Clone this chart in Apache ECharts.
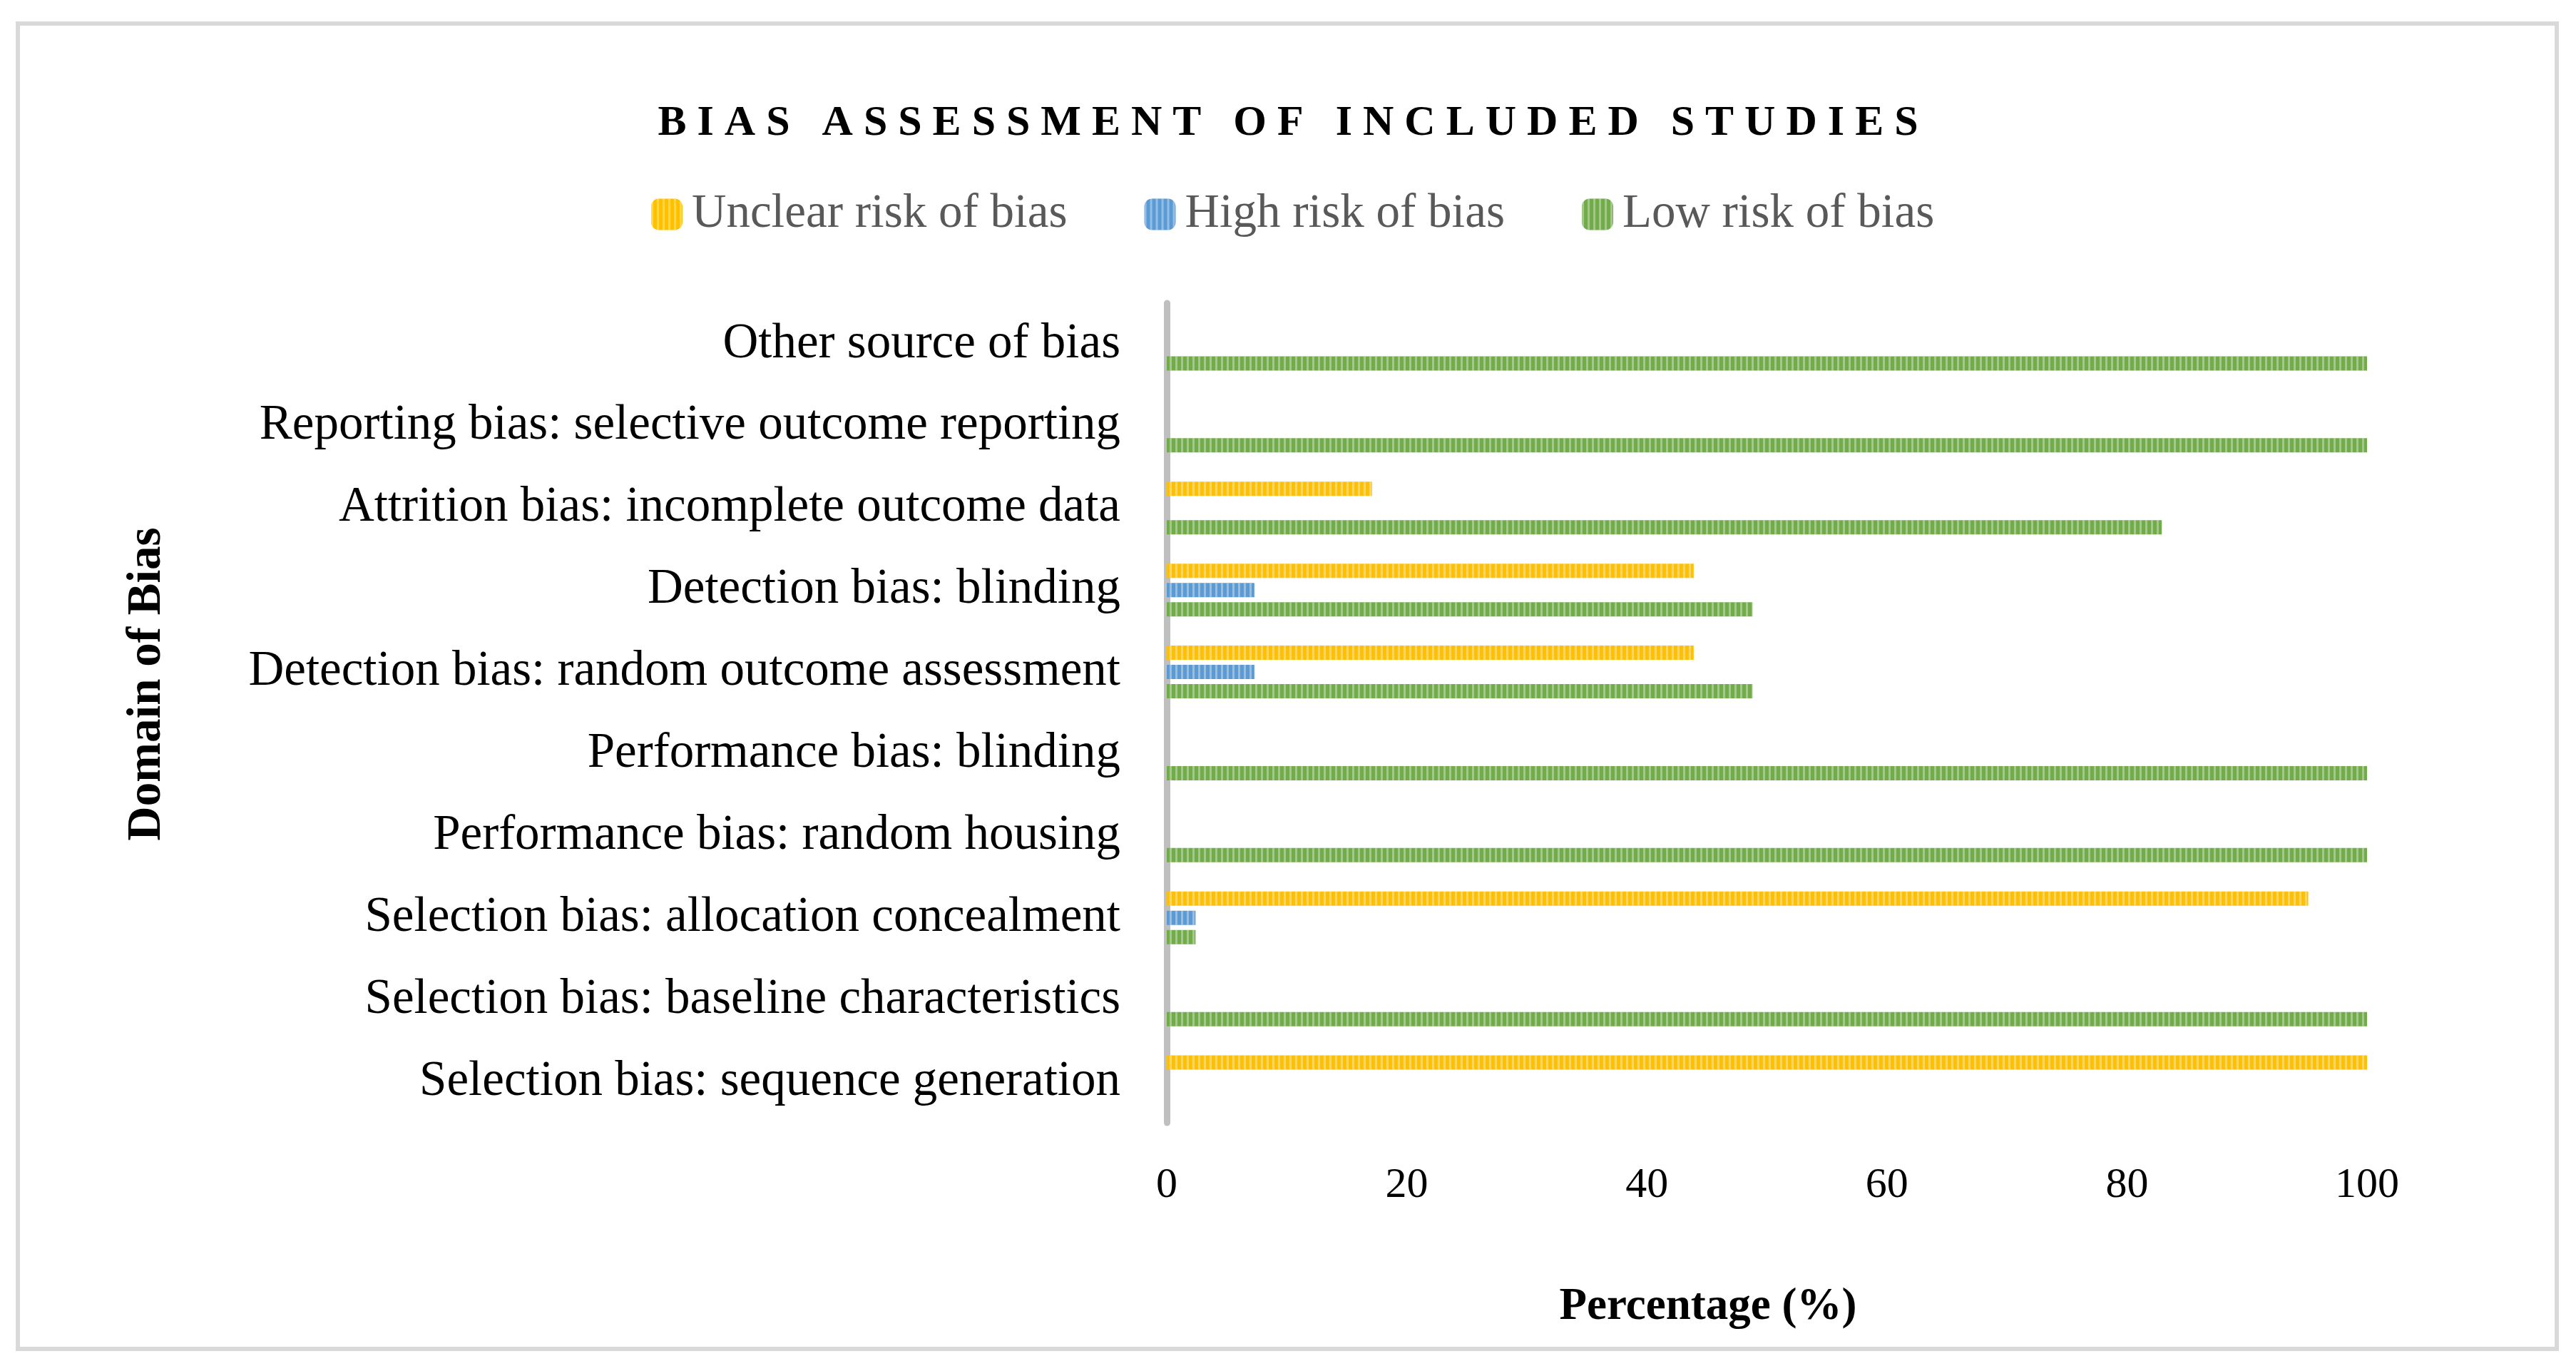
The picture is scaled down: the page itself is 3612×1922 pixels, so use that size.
<!DOCTYPE html>
<html>
<head>
<meta charset="utf-8">
<script src="https://cdn.jsdelivr.net/npm/echarts@6/dist/echarts.min.js"></script>
<style>
html,body{margin:0;padding:0;background:#fff;}
#chart{width:3612px;height:1922px;}
</style>
</head>
<body>
<div id="chart"></div>
<script>
const categories = [
  'Selection bias: sequence generation',
  'Selection bias: baseline characteristics',
  'Selection bias: allocation concealment',
  'Performance bias: random housing',
  'Performance bias: blinding',
  'Detection bias: random outcome assessment',
  'Detection bias: blinding',
  'Attrition bias: incomplete outcome data',
  'Reporting bias: selective outcome reporting',
  'Other source of bias'
];
const seriesNames = ['Unclear risk of bias', 'High risk of bias', 'Low risk of bias'];
const unclearValues = [100, 0, 95.1, 0, 0, 43.9, 43.9, 17.1, 0, 0];
const highValues    = [0, 0, 2.4, 0, 0, 7.3, 7.3, 0, 0, 0];
const lowValues     = [0, 100, 2.4, 100, 100, 48.8, 48.8, 82.9, 100, 100];
const xTicks = [0, 20, 40, 60, 80, 100];

const FONT = '"Liberation Serif", "Times New Roman", serif';
const colors = ['#FFC000', '#5B9BD5', '#70AD47'];
const decal = {
  symbol: 'rect',
  symbolSize: 1,
  color: 'rgba(255,255,255,0.35)',
  dashArrayX: [3, 5],
  dashArrayY: [4, 0],
  rotation: 0
};
const titleText = 'BIAS ASSESSMENT OF INCLUDED STUDIES'.split(' ').map(w => w.split('').join(' ')).join('   ');

const chart = echarts.init(document.getElementById('chart'), null, {renderer: 'canvas'});
const values = [unclearValues, highValues, lowValues];
chart.setOption({
  animation: false,
  backgroundColor: '#ffffff',
  title: {
    text: titleText,
    left: 'center',
    top: 138,
    textStyle: {fontFamily: FONT, fontSize: 60, fontWeight: 'bold', color: '#000000'}
  },
  legend: {
    data: seriesNames,
    left: 908,
    top: 262,
    itemWidth: 44,
    itemHeight: 44,
    itemGap: 108,
    itemStyle: {borderWidth: 0},
    textStyle: {fontFamily: FONT, fontSize: 67, color: '#595959', padding: [0, 0, 0, 8]}
  },
  grid: {left: 1636, top: 425, width: 1683, height: 1149, containLabel: false},
  xAxis: {
    type: 'value',
    min: 0, max: 100, interval: 20,
    axisLine: {show: false},
    axisTick: {show: false},
    splitLine: {show: false},
    axisLabel: {
      fontFamily: FONT, fontSize: 60, color: '#000000', margin: 58,
      formatter: v => xTicks.indexOf(v) >= 0 ? String(v) : ''
    }
  },
  yAxis: {
    type: 'category',
    data: categories,
    axisLine: {show: true, lineStyle: {color: '#bfbfbf', width: 9}},
    axisTick: {show: false},
    splitLine: {show: false},
    axisLabel: {fontFamily: FONT, fontSize: 69, color: '#000000', margin: 65}
  },
  series: seriesNames.map((name, i) => ({
    name: name,
    type: 'bar',
    data: values[i],
    barWidth: 20,
    barGap: '35%',
    itemStyle: {color: colors[i], decal: decal}
  })),
  graphic: [
    {
      type: 'rect',
      shape: {x: 25, y: 33, width: 3560, height: 1858},
      style: {fill: 'none', stroke: '#d9d9d9', lineWidth: 6},
      silent: true
    },
    {
      type: 'text',
      x: 2395, y: 1833,
      style: {text: 'Percentage (%)', font: 'bold 63px ' + FONT, fill: '#000000', align: 'center', verticalAlign: 'middle'}
    },
    {
      type: 'text',
      x: 207, y: 959,
      rotation: Math.PI / 2,
      style: {text: 'Domain of Bias', font: 'bold 67px ' + FONT, fill: '#000000', align: 'center', verticalAlign: 'middle'}
    }
  ]
});
</script>
</body>
</html>
